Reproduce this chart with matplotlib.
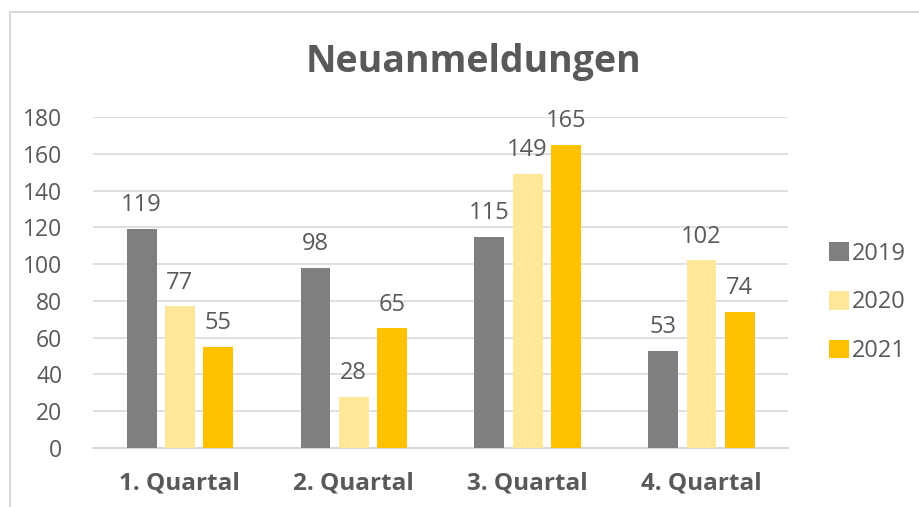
import numpy as np
import matplotlib.pyplot as plt
from matplotlib.patches import Rectangle

plt.rcParams['font.family'] = ['Open Sans', 'DejaVu Sans']

quarters = ['1. Quartal', '2. Quartal', '3. Quartal', '4. Quartal']
years = ['2019', '2020', '2021']
values_2019 = [119, 98, 115, 53]
values_2020 = [77, 28, 149, 102]
values_2021 = [55, 65, 165, 74]

colors = ['#7f7f7f', '#ffe699', '#ffc000']
text_color = '#595959'
grid_color = '#d9d9d9'

fig = plt.figure(figsize=(9.2, 5.07), dpi=100)
ax = fig.add_axes([0.101, 0.1164, 0.756, 0.6528])

# chart border (cut off at right and bottom)
fig.patches.append(Rectangle((10 / 920, -0.1), 1.2, 1 - 12 / 507 + 0.1,
                             transform=fig.transFigure, fill=False,
                             edgecolor=grid_color, linewidth=1.5))

x = np.arange(len(quarters))
width = 0.172
step = 0.22
series = [values_2019, values_2020, values_2021]
for i, (vals, col, lab) in enumerate(zip(series, colors, years)):
    bars = ax.bar(x + (i - 1) * step, vals, width, color=col, label=lab, zorder=3)
    ax.bar_label(bars, padding=8.5, fontsize=17, color=text_color)

ax.set_xlim(-0.5, 3.5)
ax.set_ylim(0, 180)
ax.set_yticks(range(0, 181, 20))
ax.yaxis.grid(True, color=grid_color, linewidth=1.2, zorder=0)
ax.set_xticks(x)
ax.set_xticklabels(quarters, fontsize=17.5, fontweight='bold', color=text_color)
ax.tick_params(axis='y', labelsize=16.5, labelcolor=text_color, length=0, pad=22)
ax.tick_params(axis='x', length=0, pad=17)
for s in ['top', 'right', 'left']:
    ax.spines[s].set_visible(False)
ax.spines['bottom'].set_color(grid_color)
ax.spines['bottom'].set_linewidth(1.5)

fig.text(0.515, 0.877, 'Neuanmeldungen', ha='center', va='center',
         fontsize=27, fontweight='bold', color=text_color)

leg = ax.legend(loc='center left', bbox_to_anchor=(1.028, 0.44), frameon=False,
                fontsize=17, handlelength=0.85, handleheight=0.85,
                handletextpad=0.12, labelspacing=1.05)
for t in leg.get_texts():
    t.set_color(text_color)

fig.savefig('out.png', dpi=100)
